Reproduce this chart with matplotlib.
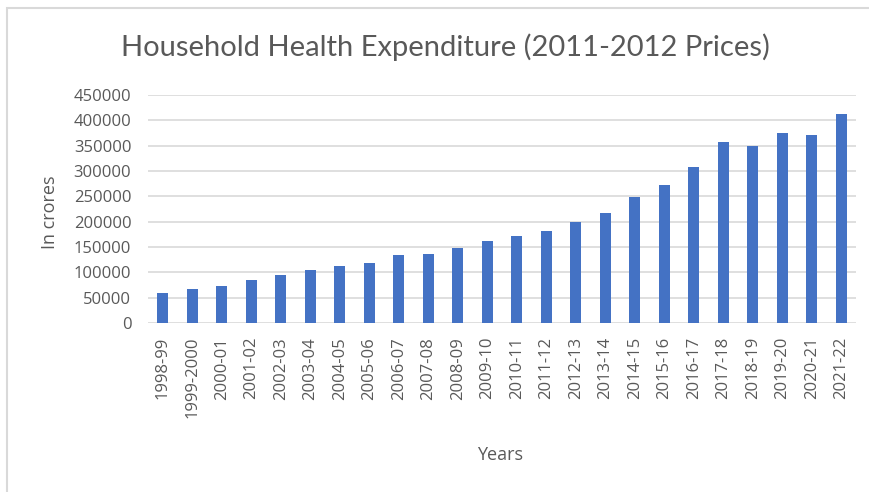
import matplotlib
matplotlib.use("Agg")
import matplotlib.pyplot as plt
from matplotlib.patches import Rectangle

years = ["1998-99", "1999-2000", "2000-01", "2001-02", "2002-03", "2003-04",
         "2004-05", "2005-06", "2006-07", "2007-08", "2008-09", "2009-10",
         "2010-11", "2011-12", "2012-13", "2013-14", "2014-15", "2015-16",
         "2016-17", "2017-18", "2018-19", "2019-20", "2020-21", "2021-22"]
expenditure = [60000, 67000, 73500, 84000, 94500, 105000,
               112000, 119000, 133500, 136500, 147500, 161000,
               171500, 181500, 199000, 216500, 248000, 272500,
               307500, 356500, 350000, 374500, 370500, 412000]
yticks = [0, 50000, 100000, 150000, 200000, 250000, 300000, 350000, 400000, 450000]

W, H = 870, 492
fig = plt.figure(figsize=(W / 100, H / 100), dpi=100)
fig.patch.set_facecolor("white")

# outer chart border (light gray)
fig.add_artist(Rectangle((7 / W, -0.05), 1.2, (H - 8) / H + 0.05,
                         transform=fig.transFigure, fill=False,
                         edgecolor="#d9d9d9", linewidth=1.5))

left, right, top, bottom = 148, 856, 95, 323
ax = fig.add_axes([left / W, 1 - bottom / H, (right - left) / W, (bottom - top) / H])

x = list(range(len(years)))
ax.bar(x, expenditure, width=0.36, color="#4472C4", zorder=3)

ax.set_ylim(0, 450000)
ax.set_xlim(-0.5, len(years) - 0.5)
ax.set_yticks(yticks)
ax.set_yticklabels([str(v) for v in yticks])
ax.set_xticks(x)
ax.set_xticklabels(years, rotation=90)

for v in yticks:
    ax.axhline(v, color="#d9d9d9", linewidth=1.2, zorder=1)

for s in ax.spines.values():
    s.set_visible(False)
ax.tick_params(axis="both", length=0, labelsize=12, colors="#595959")
ax.tick_params(axis="y", pad=12)
ax.tick_params(axis="x", pad=10)
for lab in ax.get_xticklabels() + ax.get_yticklabels():
    lab.set_fontfamily("Open Sans")

fig.text(445 / W, 1 - 47 / H, "Household Health Expenditure (2011-2012 Prices)",
         ha="center", va="center", fontsize=21, color="#595959", family="Lato")
fig.text(500 / W, 1 - 455 / H, "Years", ha="center", va="center",
         fontsize=13, color="#595959", family="Open Sans")
fig.text(50 / W, 1 - 212 / H, "In crores", ha="center", va="center", rotation=90,
         fontsize=13, color="#595959", family="Open Sans")

fig.savefig("out.png", dpi=100, facecolor="white")
